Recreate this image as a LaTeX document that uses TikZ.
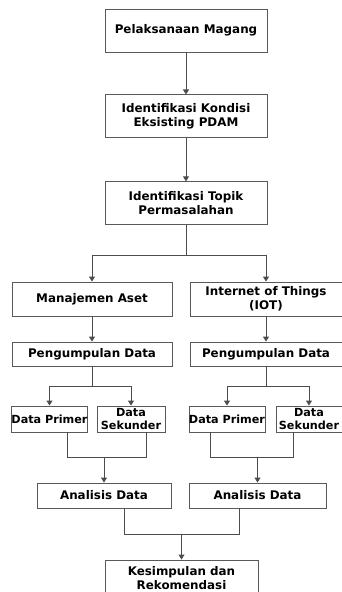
\documentclass[tikz,border=0pt]{standalone}
\usepackage{fontspec}
\setmainfont{DejaVu Sans}
\usetikzlibrary{positioning,arrows.meta}

\begin{document}
\begin{tikzpicture}[
  x=1pt, y=-1pt,
  node distance=42pt,
  box/.style={rectangle, draw=black!65, line width=0.9pt, align=center, inner sep=1pt, font=\fontsize{11.9}{14}\selectfont\bfseries},
  main/.style={box, minimum width=162pt, minimum height=43pt},
  branch/.style={box, minimum height=34pt},
  collect/.style={box, minimum height=24pt},
  source/.style={box, minimum height=26pt, inner sep=0pt, font=\fontsize{11.2}{13.5}\selectfont\bfseries},
  result/.style={box, minimum height=25pt},
  arrow/.style={-{Triangle[length=5pt,width=6pt]}, draw=black!70, line width=0.9pt},
  link/.style={draw=black!70, line width=0.9pt}
]
  \useasboundingbox (0,0) rectangle (342,592);

  % Main column
  \node[main] (magang) at (186,30.5) {Pelaksanaan Magang};
  \node[main, below=of magang] (kondisi) {Identifikasi Kondisi\\Eksisting PDAM};
  \node[main, below=43pt of kondisi] (topik) {Identifikasi Topik\\Permasalahan};

  % Two branches
  \node[branch, minimum width=160pt] (aset) at (92,299) {Manajemen Aset};
  \node[branch, minimum width=152pt] (iot) at (266,299) {Internet of Things\\(IOT)};
  \node[collect, minimum width=160pt] (kumpul1) at (92,354) {Pengumpulan Data};
  \node[collect, minimum width=152pt] (kumpul2) at (266,354) {Pengumpulan Data};

  % Data sources
  \node[source, minimum width=75pt] (primer1) at (49.5,419) {Data Primer};
  \node[source, minimum width=68pt] (sekunder1) at (131,419) {Data\\Sekunder};
  \node[source, minimum width=74pt] (primer2) at (227,419) {Data Primer};
  \node[source, minimum width=66pt] (sekunder2) at (309,419) {Data\\Sekunder};

  % Analysis and conclusion
  \node[result, minimum width=134pt] (analisis1) at (104,495.5) {Analisis Data};
  \node[result, minimum width=137pt] (analisis2) at (257.5,495.5) {Analisis Data};
  \node[box, minimum width=153pt, minimum height=36pt] (kesimpulan) at (181.5,578) {Kesimpulan dan\\Rekomendasi};

  % Connectors
  \draw[arrow] (magang) -- (kondisi);
  \draw[arrow] (kondisi) -- (topik);
  \draw[link] (topik.south) -- ++(0,30) coordinate (split);
  \draw[arrow] (split) -| (aset.north);
  \draw[arrow] (split) -| (iot.north);
  \draw[arrow] (aset) -- (kumpul1);
  \draw[arrow] (iot) -- (kumpul2);

  \draw[link] (kumpul1.south) -- ++(0,20) coordinate (split1);
  \draw[arrow] (split1) -| (primer1.north);
  \draw[arrow] (split1) -| (sekunder1.north);
  \draw[link] (kumpul2.south) -- ++(0,20) coordinate (split2);
  \draw[arrow] (split2) -| (primer2.north);
  \draw[arrow] (split2) -| (sekunder2.north);

  \draw[link] (67,0 |- primer1.south) |- (104,457) coordinate (join1);
  \draw[link] (146,0 |- sekunder1.south) |- (join1);
  \draw[arrow] (join1) -- (analisis1);
  \draw[link] (210,0 |- primer2.south) |- (257.5,457) coordinate (join2);
  \draw[link] (293,0 |- sekunder2.south) |- (join2);
  \draw[arrow] (join2) -- (analisis2);

  \draw[link] (124,0 |- analisis1.south) |- (181.5,534) coordinate (join3);
  \draw[link] (239,0 |- analisis2.south) |- (join3);
  \draw[arrow] (join3) -- (kesimpulan);
\end{tikzpicture}
\end{document}
